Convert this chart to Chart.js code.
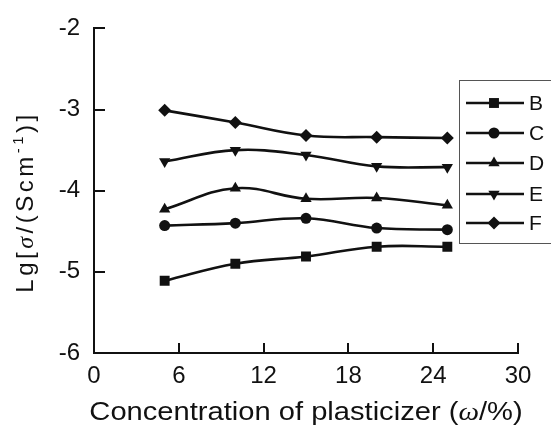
<!DOCTYPE html>
<html>
<head>
<meta charset="utf-8">
<script src="https://cdn.jsdelivr.net/npm/chart.js@4/dist/chart.umd.min.js"></script>
<style>
    html, body { margin: 0; padding: 0; background: #ffffff; }
    #wrap { width: 551px; height: 425px; position: relative; }
</style>
</head>
<body>
<div id="wrap"><canvas id="chart" width="551" height="425"></canvas></div>
<script>
// Dados das curvas
const concentration = [5, 10, 15, 20, 25];
const seriesNames = ['B', 'C', 'D', 'E', 'F'];
const seriesB = [-5.11, -4.90, -4.81, -4.69, -4.69];
const seriesC = [-4.43, -4.40, -4.34, -4.46, -4.48];
const seriesD = [-4.23, -3.97, -4.10, -4.09, -4.18];
const seriesE = [-3.64, -3.50, -3.56, -3.70, -3.71];
const seriesF = [-3.01, -3.16, -3.32, -3.34, -3.35];
const xTicks = [0, 6, 12, 18, 24, 30];
const yTicks = [-6, -5, -4, -3, -2];

const ink = '#111111';
const markers = ['rect', 'circle', 'triangle', 'triangle', 'rectRot'];
const rotations = [0, 0, 0, 180, 0];
const radii = [7, 5.5, 6.5, 6.5, 6.5];
const allSeries = [seriesB, seriesC, seriesD, seriesE, seriesF];

function toPoints(values) {
    return concentration.map((x, i) => ({ x: x, y: values[i] }));
}

const datasets = allSeries.map((values, i) => ({
    label: seriesNames[i],
    data: toPoints(values),
    borderColor: ink,
    backgroundColor: ink,
    borderWidth: 2.6,
    tension: 0.4,
    pointStyle: markers[i],
    pointRotation: rotations[i],
    pointRadius: radii[i],
    pointBorderWidth: 0,
    pointBackgroundColor: ink
}));

// Ticks para dentro + títulos dos eixos + legenda
const decorPlugin = {
    id: 'decor',
    afterDraw(chart) {
        const ctx = chart.ctx;
        const xs = chart.scales.x;
        const ys = chart.scales.y;
        const area = chart.chartArea;
        ctx.save();
        ctx.strokeStyle = ink;
        ctx.lineWidth = 2;
        xTicks.forEach(v => {
            const px = Math.round(xs.getPixelForValue(v));
            ctx.beginPath();
            ctx.moveTo(px, area.bottom);
            ctx.lineTo(px, area.bottom - 10);
            ctx.stroke();
        });
        yTicks.forEach(v => {
            const py = Math.round(ys.getPixelForValue(v));
            ctx.beginPath();
            ctx.moveTo(area.left, py);
            ctx.lineTo(area.left + 11, py);
            ctx.stroke();
        });

        // título do eixo x
        ctx.fillStyle = ink;
        ctx.textBaseline = 'alphabetic';
        const xParts = [
            { t: 'Concentration of plasticizer (', f: '26px "Liberation Sans", Arial, sans-serif' },
            { t: 'ω', f: 'italic 26px "Liberation Serif", "Times New Roman", serif' },
            { t: '/%)', f: '26px "Liberation Sans", Arial, sans-serif' }
        ];
        let w = 0;
        xParts.forEach(p => { ctx.font = p.f; w += ctx.measureText(p.t).width; });
        ctx.save();
        ctx.translate(306, 420);
        ctx.scale(1.12, 1);
        let cx = -w / 2;
        xParts.forEach(p => {
            ctx.font = p.f;
            ctx.fillText(p.t, cx, 0);
            cx += ctx.measureText(p.t).width;
        });
        ctx.restore();

        // título do eixo y
        const yParts = [
            { t: 'Lg[', f: '24px "Liberation Sans", Arial, sans-serif', dy: 0 },
            { t: 'σ', f: 'italic 24px "Liberation Serif", "Times New Roman", serif', dy: 0 },
            { t: '/(Scm', f: '24px "Liberation Sans", Arial, sans-serif', dy: 0 },
            { t: '-1', f: '15px "Liberation Sans", Arial, sans-serif', dy: -10 },
            { t: ')]', f: '24px "Liberation Sans", Arial, sans-serif', dy: 0 }
        ];
        const spacing = 3.5;
        w = 0;
        yParts.forEach(p => { ctx.font = p.f; w += ctx.measureText(p.t).width + spacing * p.t.length; });
        ctx.save();
        ctx.translate(33, 202);
        ctx.rotate(-Math.PI / 2);
        cx = -w / 2;
        yParts.forEach(p => {
            ctx.font = p.f;
            for (const ch of p.t) {
                ctx.fillText(ch, cx, p.dy);
                cx += ctx.measureText(ch).width + spacing;
            }
        });
        ctx.restore();

        // legenda
        ctx.strokeStyle = '#555555';
        ctx.lineWidth = 1;
        ctx.strokeRect(459.5, 80.5, 120, 163);
        const rowY = [103, 133, 163, 194, 223];
        ctx.font = '21px "Liberation Sans", Arial, sans-serif';
        ctx.textBaseline = 'middle';
        ctx.textAlign = 'left';
        chart.data.datasets.forEach((ds, i) => {
            ctx.strokeStyle = ink;
            ctx.lineWidth = 2.6;
            ctx.beginPath();
            ctx.moveTo(466, rowY[i]);
            ctx.lineTo(524, rowY[i]);
            ctx.stroke();
            ctx.fillStyle = ink;
            Chart.helpers.drawPoint(ctx, {
                pointStyle: ds.pointStyle,
                rotation: ds.pointRotation,
                radius: ds.pointRadius,
                borderWidth: 0
            }, 494, rowY[i]);
            ctx.fillStyle = ink;
            ctx.fillText(ds.label, 529, rowY[i] + 1);
        });
        ctx.restore();
    }
};

const tickFont = { family: '"Liberation Sans", Arial, sans-serif', size: 24 };

new Chart(document.getElementById('chart'), {
    type: 'line',
    data: { datasets: datasets },
    options: {
        responsive: false,
        animation: false,
        layout: { padding: { top: 24, right: 33, left: 0, bottom: 0 } },
        plugins: { legend: { display: false }, tooltip: { enabled: false } },
        scales: {
            x: {
                type: 'linear',
                min: 0,
                max: 30,
                afterBuildTicks: s => { s.ticks = xTicks.map(v => ({ value: v })); },
                afterFit: s => { s.height = 72; },
                grid: { display: false, drawTicks: false },
                border: { display: true, color: ink, width: 2 },
                ticks: { color: ink, font: tickFont, padding: 9, maxRotation: 0 }
            },
            y: {
                type: 'linear',
                min: -6,
                max: -2,
                afterBuildTicks: s => { s.ticks = yTicks.map(v => ({ value: v })); },
                afterFit: s => { s.width = 94; },
                grid: { display: false, drawTicks: false },
                border: { display: true, color: ink, width: 2 },
                ticks: { color: ink, font: tickFont, padding: 14 }
            }
        }
    },
    plugins: [decorPlugin]
});
</script>
</body>
</html>
